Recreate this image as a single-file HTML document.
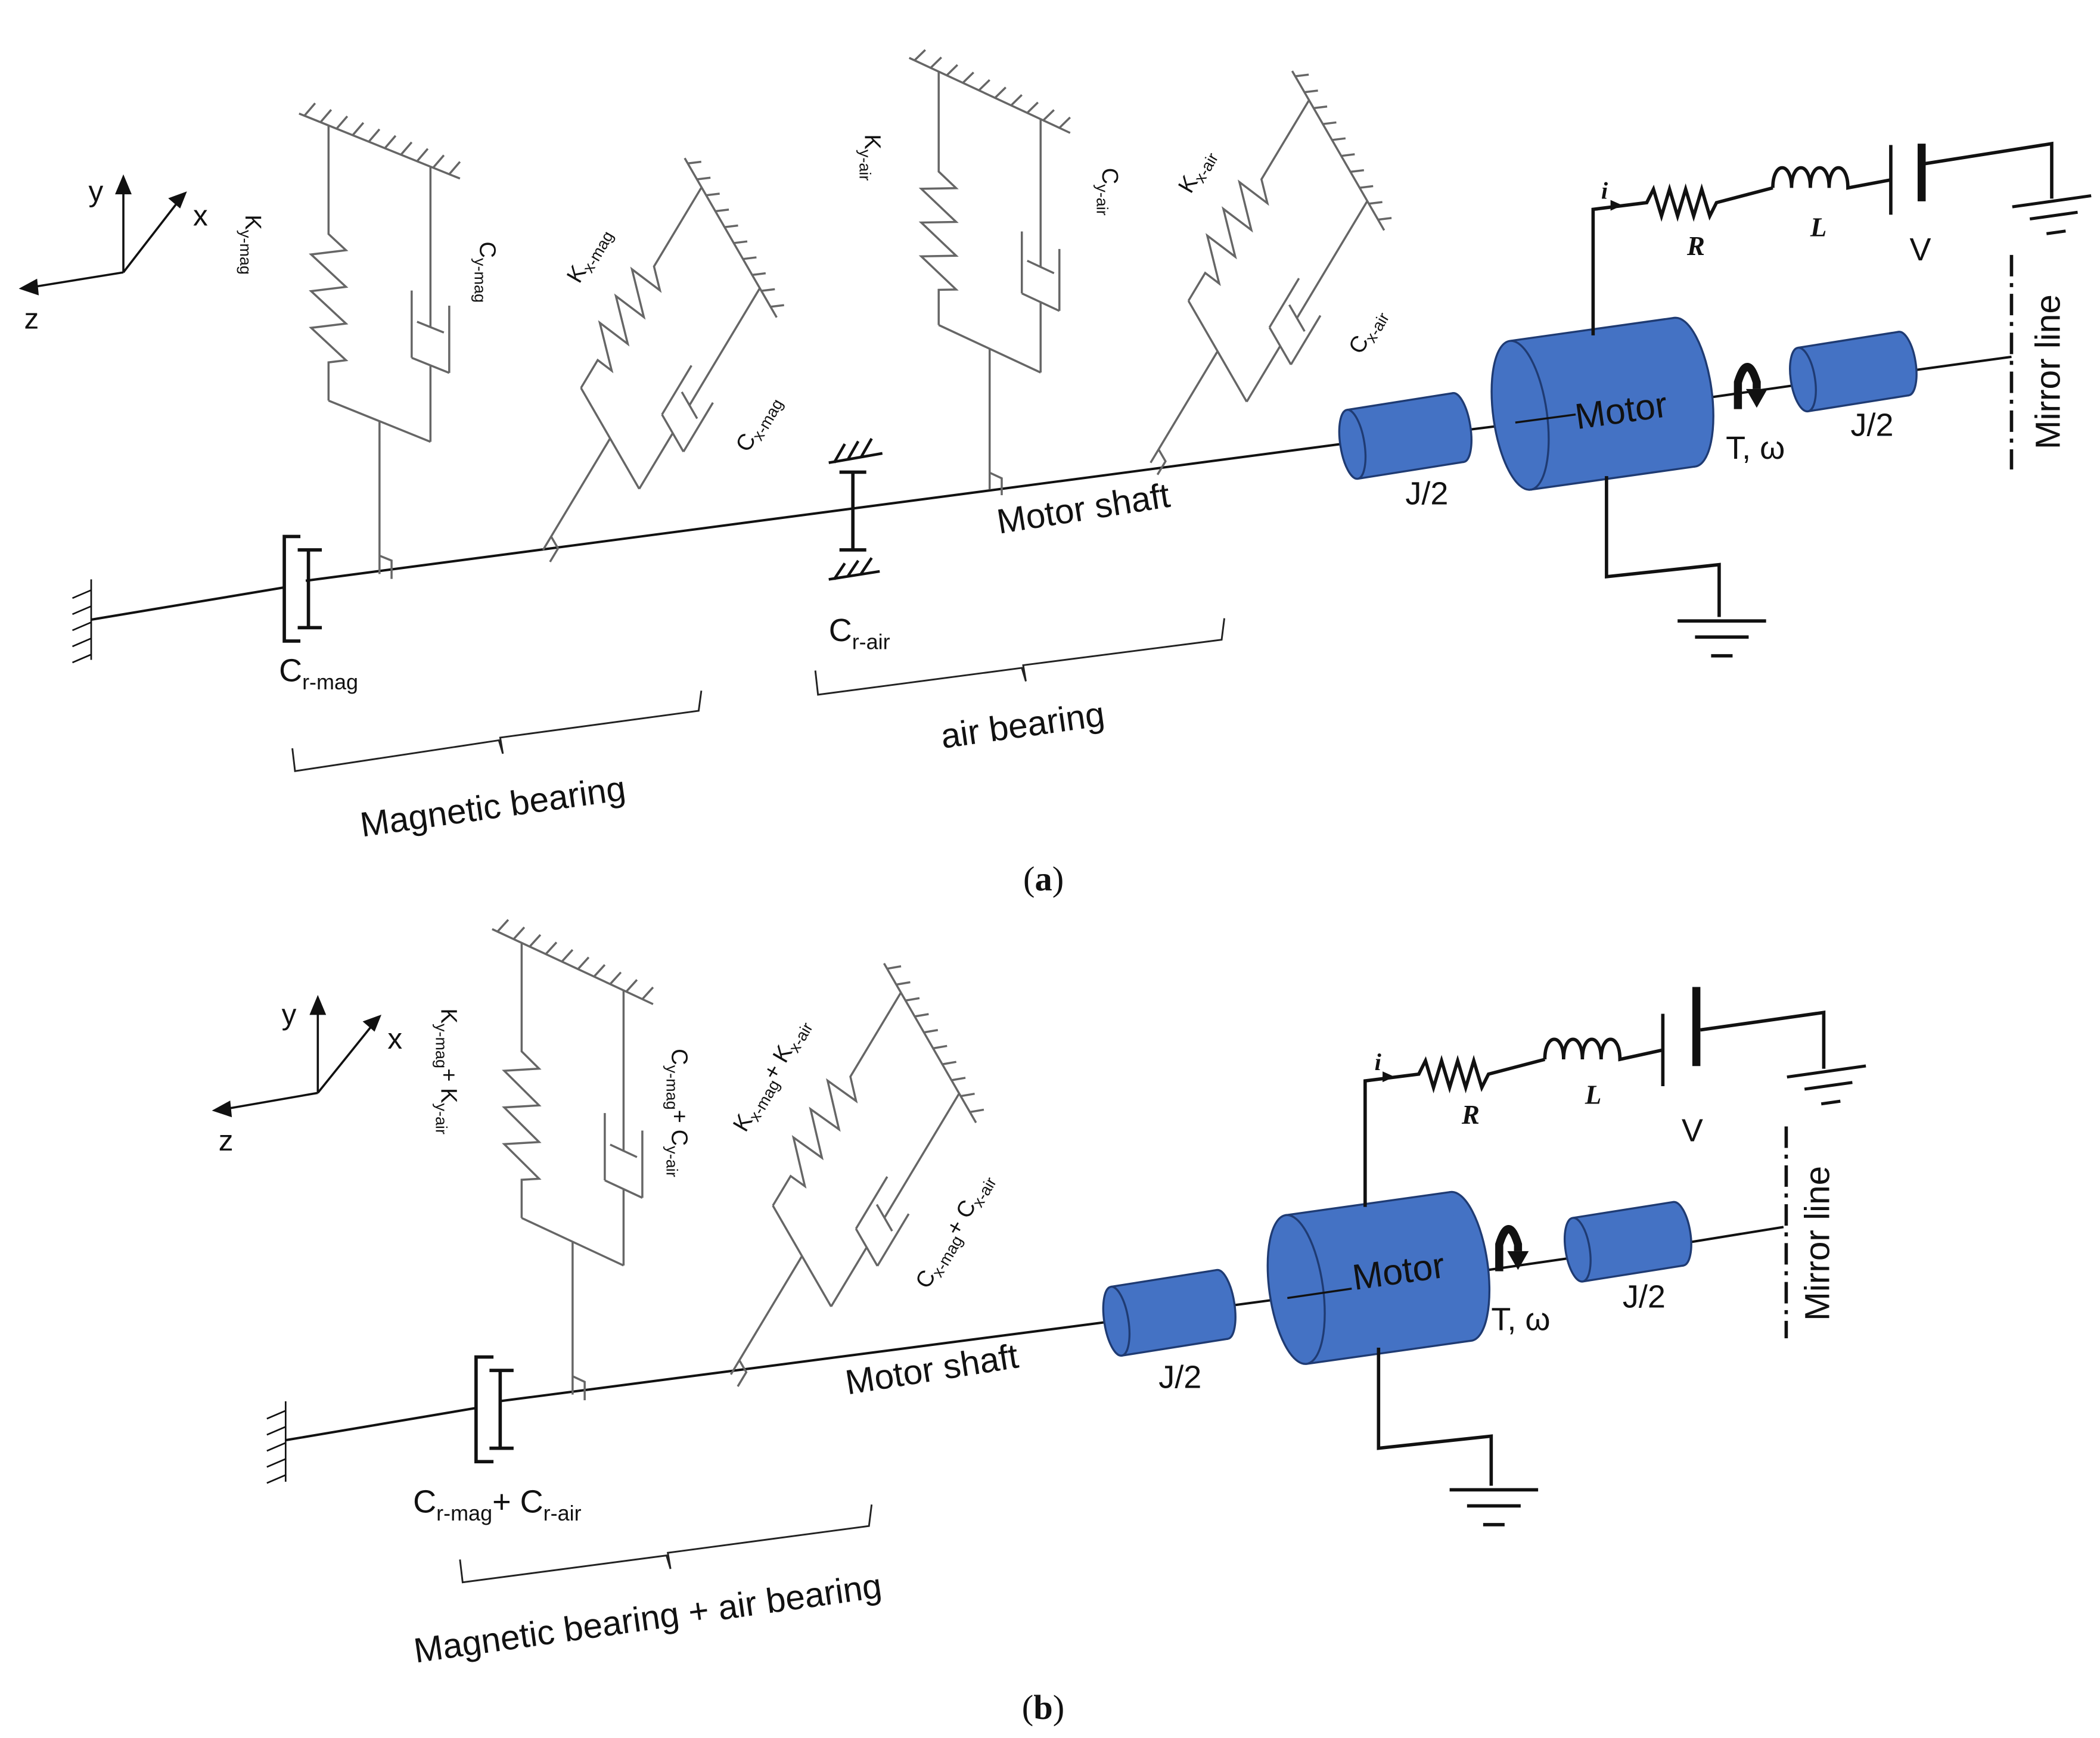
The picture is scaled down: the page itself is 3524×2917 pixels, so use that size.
<!DOCTYPE html>
<html><head><meta charset="utf-8"><style>
html,body{margin:0;padding:0;background:#fff;}
svg{display:block;}
text{font-family:"Liberation Sans",sans-serif;fill:#111;}
.ser{font-family:"Liberation Serif",serif;}
</style></head><body>
<svg width="3524" height="2917" viewBox="0 0 1566 1296" xmlns="http://www.w3.org/2000/svg">
<defs>
<g id="unit" fill="none" stroke="#666" stroke-width="3.5">
<path vector-effect="non-scaling-stroke" d="M0,0 V-100 M-38,-100 H38 M-38,-100 V-125 l13,-6 l-26,-12 l26,-12 l-26,-12 l26,-12 l-26,-12 l26,-12 l-13,-6 V-280 M38,-100 V-150 M24,-150 H52 M24,-150 V-194 M52,-150 V-194 M28,-175 H48 M38,-175 V-280 M-60,-280 H60 M0,-12 H9 V0"/>
<path vector-effect="non-scaling-stroke" d="M-56,-280 l8,-11 M-44,-280 l8,-11 M-32,-280 l8,-11 M-20,-280 l8,-11 M-8,-280 l8,-11 M4,-280 l8,-11 M16,-280 l8,-11 M28,-280 l8,-11 M40,-280 l8,-11 M52,-280 l8,-11"/>
</g>
<g id="gnd" stroke="#111" stroke-width="2.5" fill="none"><path d="M-33,0 H33 M-20,12 H20 M-8,26 H8"/></g>
</defs>

<!-- ============ PANEL A ============ -->
<g stroke="#111" stroke-width="1.6" fill="#111">
<path d="M92,203 V140 M92,203 L133,150 M92,203 L24,214" fill="none"/>
<path d="M92,132 l-5,12 h10z M138,144 l-11,4 l7,6z M16,215 l11,-6 l1,10z"/>
</g>
<text x="66" y="150" font-size="22">y</text>
<text x="144" y="168" font-size="22">x</text>
<text x="18" y="245" font-size="22">z</text>

<g stroke="#111" stroke-width="1.8" fill="none">
<path d="M68,462 L212,438"/>
<path d="M228,433 L1008,330"/>
<path d="M1090,321 L1130,316"/>
<path d="M1270,297 L1340,287"/>
<path d="M1420,277 L1500,266"/>
<path stroke-width="1.2" d="M68,432 V492 M68,440 l-14,6 M68,452 l-14,6 M68,464 l-14,6 M68,476 l-14,6 M68,488 l-14,6"/>
<path stroke-width="2.5" d="M224,400 H212 V478 H224 M230,410 V468 M222,410 H240 M222,468 H240"/>
<path stroke-width="2.5" d="M636,352 V410 M626,352 H646 M626,410 H646"/>
<path stroke-width="2" d="M618,345 L658,338 M622,345 l8,-14 M632,343 l8,-14 M642,341 l8,-14 M618,432 L656,426 M622,432 l8,-12 M632,430 l8,-12 M642,428 l8,-12"/>
</g>

<use href="#unit" transform="translate(283,428) skewY(22) scale(1,1.14)"/>
<use href="#unit" transform="translate(405,410) rotate(31) skewY(29) scale(1,0.97)"/>
<use href="#unit" transform="translate(738,365) skewY(25) scale(1,1.05)"/>
<use href="#unit" transform="translate(858,345) rotate(31) skewY(29) scale(1,0.97)"/>

<text font-size="17" transform="translate(183,160) rotate(90)">K<tspan font-size="12" dy="4">y-mag</tspan></text>
<text font-size="17" transform="translate(358,180) rotate(90)">C<tspan font-size="12" dy="4">y-mag</tspan></text>
<text font-size="17" transform="translate(432,212) rotate(-60)">K<tspan font-size="12" dy="4">x-mag</tspan></text>
<text font-size="17" transform="translate(558,338) rotate(-60)">C<tspan font-size="12" dy="4">x-mag</tspan></text>
<text font-size="17" transform="translate(645,100) rotate(90)">K<tspan font-size="12" dy="4">y-air</tspan></text>
<text font-size="17" transform="translate(822,125) rotate(90)">C<tspan font-size="12" dy="4">y-air</tspan></text>
<text font-size="17" transform="translate(888,145) rotate(-60)">K<tspan font-size="12" dy="4">x-air</tspan></text>
<text font-size="17" transform="translate(1015,265) rotate(-60)">C<tspan font-size="12" dy="4">x-air</tspan></text>

<text x="208" y="508" font-size="24">C<tspan font-size="16" dy="6">r-mag</tspan></text>
<text x="618" y="478" font-size="24">C<tspan font-size="16" dy="6">r-air</tspan></text>
<text font-size="26" transform="translate(745,398) rotate(-9)">Motor shaft</text>

<g stroke="#222" stroke-width="1.3" fill="none">
<path d="M218,558 L220,575 L372,552 L375,562 L373,550 L521,530 L523,515"/>
<path d="M608,500 L610,518 L762,498 L765,508 L763,496 L911,477 L913,461"/>
</g>
<text font-size="26" transform="translate(270,624) rotate(-8)">Magnetic bearing</text>
<text font-size="26" transform="translate(703,558) rotate(-8)">air bearing</text>

<g stroke="#1f3b73" stroke-width="1.5" fill="#4472c4">
<g transform="translate(1048,325) rotate(-9)">
<ellipse cx="40" cy="0" rx="9" ry="26"/><rect x="-40" y="-26" width="80" height="52" stroke="none"/>
<path d="M-40,-26 H40 M-40,26 H40" fill="none"/><ellipse cx="-40" cy="0" rx="9" ry="26"/></g>
<g transform="translate(1195,301) rotate(-8)">
<ellipse cx="62" cy="0" rx="20" ry="56"/><rect x="-62" y="-56" width="124" height="112" stroke="none"/>
<path d="M-62,-56 H62 M-62,56 H62" fill="none"/><ellipse cx="-62" cy="0" rx="20" ry="56"/></g>
<g transform="translate(1382,277) rotate(-9)">
<ellipse cx="38" cy="0" rx="9" ry="24"/><rect x="-38" y="-24" width="76" height="48" stroke="none"/>
<path d="M-38,-24 H38 M-38,24 H38" fill="none"/><ellipse cx="-38" cy="0" rx="9" ry="24"/></g>
</g>
<path d="M1130,315 L1175,309" stroke="#111" stroke-width="1.5"/>
<text font-size="27" transform="translate(1176,320) rotate(-8)">Motor</text>
<text x="1048" y="376" font-size="24">J/2</text>
<text x="1380" y="325" font-size="24">J/2</text>
<path d="M1296,305 V285 Q1303,262 1310,285 V290" stroke="#111" stroke-width="6" fill="none"/>
<path d="M1302,290 h16 l-8,14z" fill="#111"/>
<text x="1287" y="342" font-size="24">T, ω</text>
<path d="M1500,190 V350" stroke="#111" stroke-width="2.5" stroke-dasharray="16,5,3,5"/>
<text font-size="26" transform="translate(1536,335) rotate(-90)">Mirror line</text>

<g stroke="#111" stroke-width="2.5" fill="none">
<path d="M1188,250 V156 L1228,151 l5,-10 l6,20 l6,-20 l6,20 l6,-20 l6,20 l6,-20 l6,20 l5,-10 L1322,140"/>
<path d="M1322,140 c0,-20 14,-20 14,0 c0,-20 14,-20 14,0 c0,-20 14,-20 14,0 c0,-20 14,-20 14,0 L1410,134"/>
<path d="M1410,134 V108 M1410,134 V160"/>
<path d="M1433,107 V150" stroke-width="6"/>
<path d="M1435,122 L1530,107 V148"/>
<path d="M1198,355 V430 L1282,421 V460"/>
</g>
<path d="M1190,156 l12,-2" stroke="#111" stroke-width="2"/><path d="M1210,153 l-9,-4 v8z" fill="#111"/>
<use href="#gnd" transform="translate(1530,150) rotate(-8) scale(0.9)"/>
<use href="#gnd" transform="translate(1284,463)"/>
<text x="1194" y="148" font-size="18" font-style="italic" font-weight="bold" class="ser">i</text>
<text x="1258" y="190" font-size="20" font-style="italic" font-weight="bold" class="ser">R</text>
<text x="1350" y="176" font-size="20" font-style="italic" font-weight="bold" class="ser">L</text>
<text x="1424" y="194" font-size="24">V</text>

<text x="763" y="664" font-size="26" class="ser">(<tspan font-weight="bold">a</tspan>)</text>

<!-- ============ PANEL B ============ -->
<g stroke="#111" stroke-width="1.6" fill="#111">
<path d="M237,815 V752 M237,815 L278,764 M237,815 L168,827" fill="none"/>
<path d="M237,744 l-5,12 h10z M283,758 l-11,4 l7,6z M160,828 l11,-6 l1,10z"/>
</g>
<text x="210" y="764" font-size="22">y</text>
<text x="289" y="782" font-size="22">x</text>
<text x="163" y="858" font-size="22">z</text>

<g stroke="#111" stroke-width="1.8" fill="none">
<path d="M213,1074 L355,1050"/>
<path d="M372,1045 L832,985"/>
<path d="M915,974 L960,968"/>
<path d="M1103,948 L1172,938"/>
<path d="M1256,927 L1330,915"/>
<path stroke-width="1.2" d="M213,1045 V1105 M213,1052 l-14,6 M213,1064 l-14,6 M213,1076 l-14,6 M213,1088 l-14,6 M213,1100 l-14,6"/>
<path stroke-width="2.5" d="M368,1012 H355 V1090 H368 M373,1022 V1080 M365,1022 H383 M365,1080 H383"/>
</g>
<use href="#unit" transform="translate(427,1040) skewY(25) scale(1,1.14)"/>
<use href="#unit" transform="translate(545,1025) rotate(31) skewY(29) scale(1,1.03)"/>

<text font-size="17" transform="translate(329,752) rotate(90)">K<tspan font-size="12" dy="4">y-mag</tspan><tspan dy="-4">+ K</tspan><tspan font-size="12" dy="4">y-air</tspan></text>
<text font-size="17" transform="translate(501,782) rotate(90)">C<tspan font-size="12" dy="4">y-mag</tspan><tspan dy="-4">+ C</tspan><tspan font-size="12" dy="4">y-air</tspan></text>
<text font-size="17" transform="translate(556,845) rotate(-60)">K<tspan font-size="12" dy="4">x-mag</tspan><tspan dy="-4">+ K</tspan><tspan font-size="12" dy="4">x-air</tspan></text>
<text font-size="17" transform="translate(692,962) rotate(-60)">C<tspan font-size="12" dy="4">x-mag</tspan><tspan dy="-4">+ C</tspan><tspan font-size="12" dy="4">x-air</tspan></text>

<text x="308" y="1128" font-size="24">C<tspan font-size="16" dy="6">r-mag</tspan><tspan dy="-6">+ C</tspan><tspan font-size="16" dy="6">r-air</tspan></text>
<text font-size="26" transform="translate(632,1040) rotate(-9)">Motor shaft</text>
<path d="M343,1163 L345,1180 L497,1160 L500,1170 L498,1158 L648,1138 L650,1122" stroke="#222" stroke-width="1.3" fill="none"/>
<text font-size="26" transform="translate(310,1240) rotate(-8)">Magnetic bearing + air bearing</text>

<g stroke="#1f3b73" stroke-width="1.5" fill="#4472c4">
<g transform="translate(872,979) rotate(-9)">
<ellipse cx="40" cy="0" rx="9" ry="26"/><rect x="-40" y="-26" width="80" height="52" stroke="none"/>
<path d="M-40,-26 H40 M-40,26 H40" fill="none"/><ellipse cx="-40" cy="0" rx="9" ry="26"/></g>
<g transform="translate(1028,953) rotate(-8)">
<ellipse cx="62" cy="0" rx="20" ry="56"/><rect x="-62" y="-56" width="124" height="112" stroke="none"/>
<path d="M-62,-56 H62 M-62,56 H62" fill="none"/><ellipse cx="-62" cy="0" rx="20" ry="56"/></g>
<g transform="translate(1214,926) rotate(-9)">
<ellipse cx="38" cy="0" rx="9" ry="24"/><rect x="-38" y="-24" width="76" height="48" stroke="none"/>
<path d="M-38,-24 H38 M-38,24 H38" fill="none"/><ellipse cx="-38" cy="0" rx="9" ry="24"/></g>
</g>
<path d="M960,968 L1008,961" stroke="#111" stroke-width="1.5"/>
<text font-size="27" transform="translate(1010,962) rotate(-8)">Motor</text>
<text x="864" y="1035" font-size="24">J/2</text>
<text x="1210" y="975" font-size="24">J/2</text>
<path d="M1118,948 V928 Q1125,905 1132,928 V933" stroke="#111" stroke-width="6" fill="none"/>
<path d="M1124,933 h16 l-8,14z" fill="#111"/>
<text x="1112" y="992" font-size="24">T, ω</text>
<path d="M1332,840 V998" stroke="#111" stroke-width="2.5" stroke-dasharray="16,5,3,5"/>
<text font-size="26" transform="translate(1364,985) rotate(-90)">Mirror line</text>

<g stroke="#111" stroke-width="2.5" fill="none">
<path d="M1018,900 V806 L1058,801 l5,-10 l6,20 l6,-20 l6,20 l6,-20 l6,20 l6,-20 l6,20 l5,-10 L1152,790"/>
<path d="M1152,790 c0,-20 14,-20 14,0 c0,-20 14,-20 14,0 c0,-20 14,-20 14,0 c0,-20 14,-20 14,0 L1240,783"/>
<path d="M1240,783 V756 M1240,783 V810"/>
<path d="M1265,736 V795" stroke-width="6"/>
<path d="M1268,768 L1360,755 V797"/>
<path d="M1028,1005 V1080 L1112,1071 V1108"/>
</g>
<path d="M1020,806 l12,-2" stroke="#111" stroke-width="2"/><path d="M1040,803 l-9,-4 v8z" fill="#111"/>
<use href="#gnd" transform="translate(1362,799) rotate(-8) scale(0.9)"/>
<use href="#gnd" transform="translate(1114,1111)"/>
<text x="1025" y="798" font-size="18" font-style="italic" font-weight="bold" class="ser">i</text>
<text x="1090" y="838" font-size="20" font-style="italic" font-weight="bold" class="ser">R</text>
<text x="1182" y="823" font-size="20" font-style="italic" font-weight="bold" class="ser">L</text>
<text x="1254" y="851" font-size="24">V</text>

<text x="762" y="1282" font-size="26" class="ser">(<tspan font-weight="bold">b</tspan>)</text>
</svg>
</body></html>
